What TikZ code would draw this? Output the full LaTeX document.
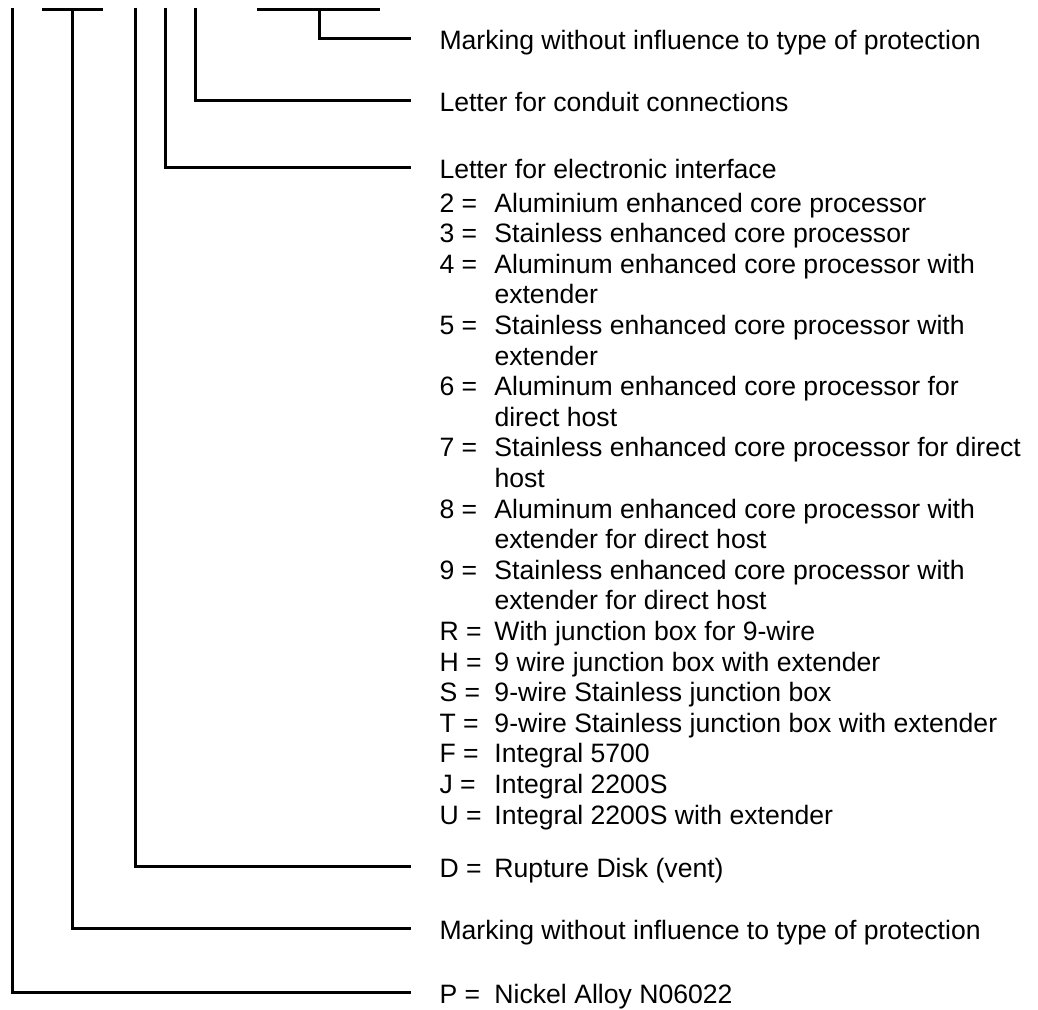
\documentclass[tikz,border=0pt]{standalone}
\usepackage{fontspec}
\setmainfont{Liberation Sans}
\usetikzlibrary{positioning}

\newlength{\keyw}
\setlength{\keyw}{55pt}
\newcommand{\keyval}[2]{\makebox[\keyw][l]{#1}#2}

\begin{document}
\begin{tikzpicture}[x=1pt,y=-1pt,line width=3pt,
    txt/.style={inner sep=0pt,font=\fontsize{26.6}{30.6}\selectfont},
    lbl/.style={txt,anchor=west,text height=23pt,text depth=0pt}]
\useasboundingbox (0,0) rectangle (1038,1009);

% tops of the code lines
\coordinate (tP) at (12,7.5);
\coordinate (barA1) at (42,9.5);
\coordinate (barA2) at (103,9.5);
\coordinate (tMarkB) at (72,9.5);
\coordinate (tD) at (135,7.5);
\coordinate (tElec) at (165,7.5);
\coordinate (tConduit) at (195,7.5);
\coordinate (barB1) at (257,9.5);
\coordinate (barB2) at (380,9.5);
\coordinate (tMarkA) at (319,9.5);

% labels
\node[lbl] (markA) at (438,38) {Marking without influence to type of protection};
\node[lbl] (conduit) at (438,100) {Letter for conduit connections};
\node[lbl] (elec) at (438,167) {Letter for electronic interface};
\node[txt,below=9.2pt of elec.south west,anchor=north west] (eleclist) {%
  \begin{tabular}{@{}p{\keyw}@{}l@{}}
   2 = & Aluminium enhanced core processor\\
   3 = & Stainless enhanced core processor\\
   4 = & Aluminum enhanced core processor with\\
       & extender\\
   5 = & Stainless enhanced core processor with\\
       & extender\\
   6 = & Aluminum enhanced core processor for\\
       & direct host\\
   7 = & Stainless enhanced core processor for direct\\
       & host\\
   8 = & Aluminum enhanced core processor with\\
       & extender for direct host\\
   9 = & Stainless enhanced core processor with\\
       & extender for direct host\\
   R = & With junction box for 9-wire\\
   H = & 9 wire junction box with extender\\
   S = & 9-wire Stainless junction box\\
   T = & 9-wire Stainless junction box with extender\\
   F = & Integral 5700\\
   J = & Integral 2200S\\
   U = & Integral 2200S with extender
  \end{tabular}};
\node[lbl] (disk) at (438,866) {\keyval{D =}{Rupture Disk (vent)}};
\node[lbl] (markB) at (438,928) {Marking without influence to type of protection};
\node[lbl] (alloy) at (438,992) {\keyval{P =}{Nickel Alloy N06022}};

% bars and connectors
\draw (barA1) -- (barA2);
\draw (barB1) -- (barB2);
\draw (tMarkA) |- ([xshift=-27pt]markA.west);
\draw (tConduit) |- ([xshift=-27pt]conduit.west);
\draw (tElec) |- ([xshift=-27pt]elec.west);
\draw (tD) |- ([xshift=-27pt]disk.west);
\draw (tMarkB) |- ([xshift=-27pt]markB.west);
\draw (tP) |- ([xshift=-27pt]alloy.west);
\end{tikzpicture}
\end{document}
